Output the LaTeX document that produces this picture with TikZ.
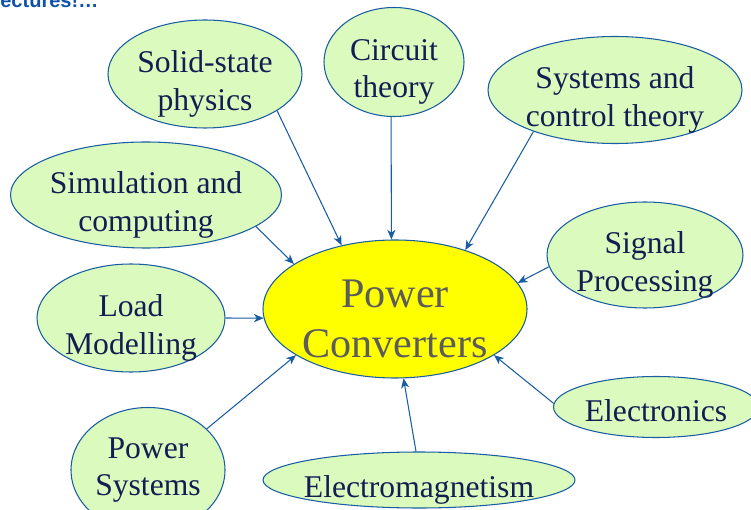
\documentclass[tikz,border=0pt]{standalone}
\usepackage{fontspec}
\setmainfont{Liberation Serif}
\newfontfamily\headsans{Liberation Sans}
\usepackage{tikz}
\usetikzlibrary{arrows.meta,shapes.geometric}
\definecolor{pcBlue}  {RGB}{ 24, 92,162}
\definecolor{pcNavy}  {RGB}{ 18, 30, 82}
\definecolor{pcGreenL}{RGB}{219,250,190}
\definecolor{pcYellow}{RGB}{255,255,  0}
\definecolor{pcGray}  {RGB}{ 92, 92, 92}
\definecolor{pcHead}  {RGB}{ 16, 82,170}

\begin{document}
\begin{tikzpicture}[
  every node/.style={font=\fontsize{18}{21.5}\selectfont},
  bubble/.style={ellipse,draw=pcBlue,line width=0.6pt,fill=pcGreenL,inner sep=0pt},
  core/.style={ellipse,draw=pcBlue,line width=0.6pt,fill=pcYellow,inner sep=0pt},
  topic/.style={text=pcNavy,align=center,inner sep=0pt},
  coretext/.style={text=pcGray,align=center,inner sep=0pt,
                   font=\fontsize{24}{28.3}\selectfont},
  link/.style={draw=pcBlue,line width=0.6pt,
               -{Stealth[length=5.5pt,width=4.6pt,inset=1.6pt]}}
]
\useasboundingbox (0,0) rectangle (15.02,-10.2);
% cut-off heading
\node[anchor=base west,inner sep=0pt,text=pcHead,
      font=\headsans\bfseries\fontsize{11.4}{13}\selectfont] (head) at (0,-0.16)
   {ectures!…};
% centre
\node[core,minimum width=5.28cm,minimum height=2.76cm] (pc) at (7.90,-6.18) {};
\node[coretext] (pcT) at ([yshift=-0.2cm]pc.center) {Power\\Converters};
% surrounding topics
\node[bubble,minimum width=3.88cm,minimum height=2.16cm] (ss)  at (4.10,-1.48) {};
\node[bubble,minimum width=2.80cm,minimum height=2.18cm] (ct)  at (7.88,-1.24) {};
\node[bubble,minimum width=5.08cm,minimum height=2.14cm] (sc)  at (12.30,-1.80) {};
\node[bubble,minimum width=5.42cm,minimum height=2.12cm] (sim) at (2.92,-3.90) {};
\node[bubble,minimum width=3.92cm,minimum height=2.12cm] (sp)  at (12.90,-5.10) {};
\node[bubble,minimum width=3.76cm,minimum height=2.16cm] (lm)  at (2.62,-6.36) {};
\node[bubble,minimum width=4.10cm,minimum height=1.22cm] (el)  at (13.12,-8.14) {};
\node[bubble,minimum width=3.08cm,minimum height=2.50cm] (ps)  at (2.96,-9.40) {};
\node[bubble,minimum width=6.24cm,minimum height=1.12cm] (em)  at (8.38,-9.60) {};
% their texts, set a little low as in the slide
\node[topic] (ssT)  at ([yshift=-0.2cm]ss.center)  {Solid-state\\physics};
\node[topic] (ctT)  at ([yshift=-0.2cm]ct.center)  {Circuit\\theory};
\node[topic] (scT)  at ([yshift=-0.2cm]sc.center)  {Systems and\\control theory};
\node[topic] (simT) at ([yshift=-0.2cm]sim.center) {Simulation and\\computing};
\node[topic] (spT)  at ([yshift=-0.2cm]sp.center)  {Signal\\Processing};
\node[topic] (lmT)  at ([yshift=-0.2cm]lm.center)  {Load\\Modelling};
\node[topic] (elT)  at ([yshift=-0.08cm]el.center) {Electronics};
\node[topic] (psT)  at (ps.center)                 {Power\\Systems};
\node[topic] (emT)  at ([yshift=-0.2cm]em.center)  {Electromagnetism};
% arrows into the centre
\draw[link] (ss.-27)  -- (pc.130);
\draw[link] (ct.-93)  -- (pc.93);
\draw[link] (sc.-153) -- (pc.40);
\draw[link] (sim.-16) -- (pc.156);
\draw[link] (sp.187)  -- (pc.12);
\draw[link] (lm.0)    -- (pc.184);
\draw[link] (ps.35)   -- (pc.205);
\draw[link] (em.96)   -- (pc.-83);
\draw[link] (el.178)  -- (pc.-25);
\end{tikzpicture}
\end{document}
